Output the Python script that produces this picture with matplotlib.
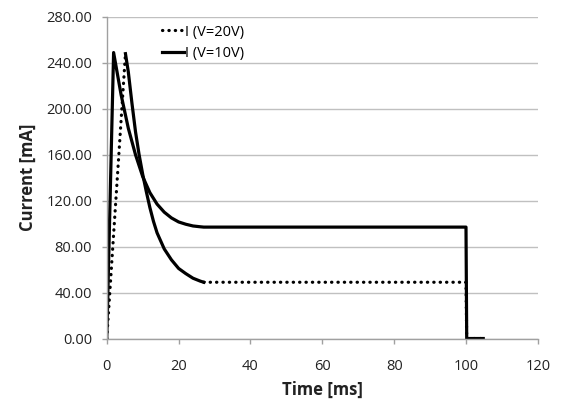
import matplotlib
matplotlib.use("Agg")
import matplotlib.pyplot as plt

plt.rcParams['font.family'] = ['Open Sans', 'DejaVu Sans']

# time [ms] and current [mA]
t_10v = [0, 1.9, 4, 6, 8, 10, 12, 14, 16, 18, 20, 22, 24, 26, 27, 100, 100.2, 104.8]
i_10v = [0, 249, 212, 183, 160, 141, 127, 117, 110, 105, 101.5, 99.5, 98, 97.3, 97, 97, 0, 0]

t_20v = [0, 5.2, 6, 7, 8, 9, 10, 11, 12, 13, 14, 16, 18, 20, 22, 24, 26, 27, 100, 100.2, 104.8]
i_20v = [0, 248, 232, 205, 180, 160, 143, 128, 114, 102, 92, 78, 68.5, 61, 56.5, 52.5, 50, 49, 49, 0, 0]

peak_idx = 1   # 20V series: decay part from the peak to t=27 looks solid
decay_end = 17

x_ticks = [0, 20, 40, 60, 80, 100, 120]
y_ticks = [0, 40, 80, 120, 160, 200, 240, 280]

fig = plt.figure(figsize=(5.62, 4.03), dpi=100)
ax = fig.add_axes([0.190, 0.160, 0.767, 0.798])

dots = (0, (0.1, 1.9))

# 20V: dotted line, decay drawn solid like in the original
ax.plot(t_20v[:peak_idx + 1], i_20v[:peak_idx + 1], color='black', lw=2.3,
        linestyle=dots, dash_capstyle='round')
ax.plot(t_20v[decay_end:], i_20v[decay_end:], color='black', lw=2.3,
        linestyle=dots, dash_capstyle='round')
ax.plot(t_20v[peak_idx:decay_end + 1], i_20v[peak_idx:decay_end + 1], color='black', lw=2.3)

ax.plot(t_10v, i_10v, color='black', lw=2.3)

# legend handles
h1, = ax.plot([], [], color='black', lw=2.3, linestyle=dots,
              dash_capstyle='round', label='I (V=20V)')
h2, = ax.plot([], [], color='black', lw=2.3, label='I (V=10V)')
ax.legend(handles=[h1, h2], loc='upper left', bbox_to_anchor=(0.098, 1.017),
          frameon=False, fontsize=10.5, handlelength=1.5, handletextpad=0.1,
          labelspacing=0.45)

ax.set_xlim(0, 120)
ax.set_ylim(0, 280)
ax.set_xticks(x_ticks)
ax.set_yticks(y_ticks)
ax.set_yticklabels(['%.2f' % v for v in y_ticks])

ax.grid(axis='y', color='#c0c0c0', lw=1)
ax.set_axisbelow(True)
for s in ['top', 'right']:
    ax.spines[s].set_visible(False)
for s in ['left', 'bottom']:
    ax.spines[s].set_color('#a0a0a0')
    ax.spines[s].set_linewidth(1)
ax.tick_params(axis='both', colors='#a0a0a0', labelcolor='#222222',
               labelsize=10.5, length=3.6, width=1)
ax.tick_params(axis='y', pad=7)
ax.tick_params(axis='x', pad=11)

ax.set_xlabel('Time [ms]', fontsize=12, fontweight='bold', color='#222222', labelpad=5)
ax.set_ylabel('Current [mA]', fontsize=12, fontweight='bold', color='#222222', labelpad=7)

fig.savefig('out.png', dpi=100)
